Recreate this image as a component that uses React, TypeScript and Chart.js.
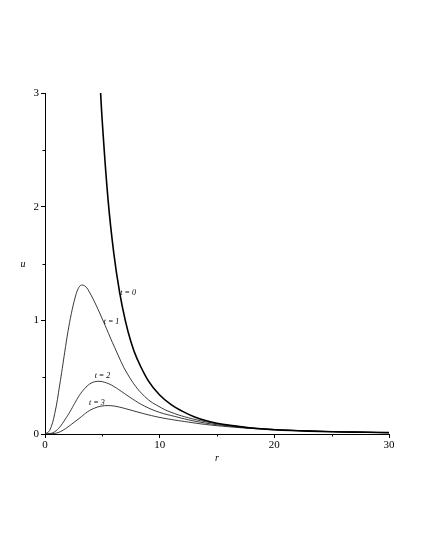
import React, { useEffect, useRef } from "react";
import { Chart, registerables } from "chart.js";

Chart.register(...registerables);

// t = 0
const r0 = [4.6, 4.8, 5.0, 5.5, 6.0, 6.5, 7.0, 7.5, 8.0, 9.0, 10, 11, 12, 13, 14, 15, 16, 18, 20, 22, 24, 26, 28, 30];
const u0 = [3.52, 3.1, 2.74, 2.06, 1.59, 1.25, 1.0, 0.81, 0.67, 0.47, 0.343, 0.258, 0.199, 0.152, 0.118, 0.095, 0.078, 0.053, 0.038, 0.029, 0.022, 0.018, 0.015, 0.012];
// t = 1
const r1 = [0, 0.4, 0.85, 1.28, 1.72, 2.0, 2.3, 2.6, 2.9, 3.17, 3.5, 3.75, 4.33, 4.92, 5.35, 6.08, 7.24, 8.69, 10.15, 11.3, 12.5, 14, 16, 18, 20, 23, 26, 30];
const u1 = [0, 0.03, 0.18, 0.43, 0.72, 0.9, 1.06, 1.19, 1.28, 1.31, 1.3, 1.27, 1.16, 1.03, 0.93, 0.76, 0.52, 0.33, 0.23, 0.18, 0.143, 0.108, 0.076, 0.055, 0.04, 0.028, 0.02, 0.013];
// t = 2
const r2 = [0, 0.5, 0.85, 1.28, 1.72, 2.2, 2.59, 3.0, 3.46, 3.9, 4.33, 4.8, 5.2, 5.8, 6.66, 7.6, 8.69, 10, 11.3, 12.5, 14, 16, 18, 20, 23, 26, 30];
const u2 = [0, 0.005, 0.02, 0.06, 0.123, 0.2, 0.27, 0.34, 0.4, 0.44, 0.46, 0.463, 0.455, 0.43, 0.375, 0.31, 0.245, 0.19, 0.155, 0.125, 0.096, 0.07, 0.052, 0.039, 0.027, 0.019, 0.012];
// t = 3
const r3 = [0, 0.6, 1.14, 1.6, 2.0, 2.6, 3.17, 3.7, 4.33, 4.9, 5.5, 6.2, 7.24, 8.2, 9.28, 10.3, 11.3, 12.5, 14, 16, 18, 20, 23, 26, 30];
const u3 = [0, 0.002, 0.012, 0.035, 0.062, 0.108, 0.152, 0.195, 0.228, 0.245, 0.25, 0.243, 0.217, 0.19, 0.162, 0.14, 0.123, 0.105, 0.084, 0.064, 0.049, 0.037, 0.026, 0.018, 0.011];

const curveLabels = ["t = 0", "t = 1", "t = 2", "t = 3"];
const labelR = [6.57, 5.12, 4.33, 3.84];
const labelU = [1.24, 0.99, 0.51, 0.27];

const xMajorTicks = [0, 10, 20, 30];
const xMinorTicks = [5, 15, 25];
const yMajorTicks = [0, 1, 2, 3];
const yMinorTicks = [0.5, 1.5, 2.5];

const toPts = (rs: number[], us: number[]) => rs.map((r, i) => ({ x: r, y: us[i] }));

export default function App() {
  const ref = useRef<HTMLCanvasElement | null>(null);

  useEffect(() => {
    if (!ref.current) return;
    const serif = "'Liberation Serif', 'DejaVu Serif', serif";

    const decor = {
      id: "decor",
      afterDraw(chart: any) {
        const { ctx, chartArea, scales } = chart;
        const xs = scales.x;
        const ys = scales.y;
        ctx.save();
        ctx.strokeStyle = "#000";
        ctx.lineWidth = 1;
        ctx.beginPath();
        xMinorTicks.forEach((v) => {
          const px = Math.round(xs.getPixelForValue(v)) + 0.5;
          ctx.moveTo(px, chartArea.bottom);
          ctx.lineTo(px, chartArea.bottom + 2.5);
        });
        yMinorTicks.forEach((v) => {
          const py = Math.round(ys.getPixelForValue(v)) + 0.5;
          ctx.moveTo(chartArea.left, py);
          ctx.lineTo(chartArea.left - 2.5, py);
        });
        ctx.stroke();

        ctx.fillStyle = "#000";
        ctx.font = `italic 8px ${serif}`;
        ctx.textAlign = "left";
        ctx.textBaseline = "middle";
        curveLabels.forEach((lab, i) => {
          ctx.fillText(lab, xs.getPixelForValue(labelR[i]), ys.getPixelForValue(labelU[i]));
        });

        ctx.font = `italic 10px ${serif}`;
        ctx.textAlign = "center";
        ctx.fillText("u", chartArea.left - 22, ys.getPixelForValue(1.5) + 1);
        ctx.fillText("r", xs.getPixelForValue(15), chartArea.bottom + 24);
        ctx.restore();
      },
    };

    const lineDs = (pts: any[], w: number, color: string) => ({
      data: pts,
      borderColor: color,
      borderWidth: w,
      pointRadius: 0,
      fill: false,
      tension: 0.4,
    });

    const chart = new Chart(ref.current, {
      type: "line",
      data: {
        datasets: [
          lineDs(toPts(r0, u0), 1.6, "#000"),
          lineDs(toPts(r1, u1), 0.9, "#222"),
          lineDs(toPts(r2, u2), 0.9, "#222"),
          lineDs(toPts(r3, u3), 0.9, "#222"),
        ],
      },
      options: {
        responsive: false,
        animation: false,
        events: [],
        layout: { padding: { left: 0, top: 93, right: 36, bottom: 86 } },
        plugins: { legend: { display: false }, tooltip: { enabled: false } },
        scales: {
          x: {
            type: "linear",
            min: 0,
            max: 30,
            afterFit: (s: any) => { s.height = 30; },
            afterBuildTicks: (s: any) => { s.ticks = xMajorTicks.map((v) => ({ value: v })); },
            grid: { drawOnChartArea: false, drawTicks: true, tickLength: 4, color: "#000", tickColor: "#000" },
            border: { display: true, color: "#000", width: 1 },
            ticks: { color: "#000", font: { family: serif, size: 11 }, padding: 1, maxRotation: 0, autoSkip: false },
          },
          y: {
            type: "linear",
            min: 0,
            max: 3,
            afterFit: (s: any) => { s.width = 45; },
            afterBuildTicks: (s: any) => { s.ticks = yMajorTicks.map((v) => ({ value: v })); },
            grid: { drawOnChartArea: false, drawTicks: true, tickLength: 4, color: "#000", tickColor: "#000" },
            border: { display: true, color: "#000", width: 1 },
            ticks: { color: "#000", font: { family: serif, size: 11 }, padding: 2, autoSkip: false },
          },
        },
      },
      plugins: [decor],
    });
    return () => chart.destroy();
  }, []);

  return (
    <div style={{ position: "fixed", left: 0, top: 0, width: 425, height: 550, background: "#fff" }}>
      <canvas ref={ref} width={425} height={550} style={{ display: "block" }} />
    </div>
  );
}
